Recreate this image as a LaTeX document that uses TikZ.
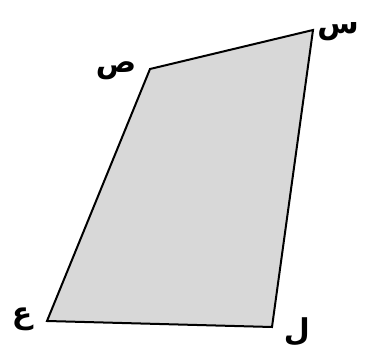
\documentclass[tikz,border=0pt]{standalone}
\usepackage{fontspec}
\newfontfamily\arabicfont[Script=Arabic]{DejaVu Sans}
\TeXXeTstate=1
\definecolor{shade}{RGB}{216,216,216}
\tikzset{lbl/.style={font=\arabicfont\bfseries\fontsize{30}{32}\selectfont, inner sep=0pt}}
\begin{document}
\begin{tikzpicture}[x=1pt,y=-1pt]
\useasboundingbox (0,0) rectangle (370,350);
\coordinate (S) at (150,69);
\coordinate (Sn) at (313,30);
\coordinate (L) at (272,327);
\coordinate (A) at (47,321);
\draw[fill=shade, line width=2pt, line join=miter] (S) -- (Sn) -- (L) -- (A) -- cycle;
\node[lbl] (ls) at (116,71) {\beginR ص\endR};
\node[lbl] (lsn) at (338,32) {\beginR س\endR};
\node[lbl] (ll) at (297,332) {\beginR ل\endR};
\node[lbl] (la) at (22,319) {\beginR ع\endR};
\end{tikzpicture}
\end{document}
